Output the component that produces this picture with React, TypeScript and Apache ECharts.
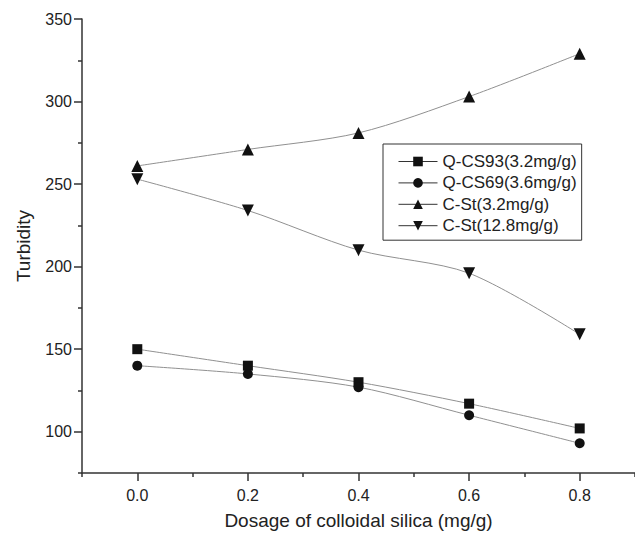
import React, { useEffect, useRef } from "react";
import * as echarts from "echarts";

const dosage = [0.0, 0.2, 0.4, 0.6, 0.8];
const qcs93 = [150, 140, 130, 117, 102];
const qcs69 = [140, 135, 127, 110, 93];
const cst32 = [261, 271, 281, 303, 329];
const cst128 = [253, 234, 210, 196, 159];

const seriesNames = ["Q-CS93(3.2mg/g)", "Q-CS69(3.6mg/g)", "C-St(3.2mg/g)", "C-St(12.8mg/g)"];

const yMajorTicks = [100, 150, 200, 250, 300, 350];
const yMinorTicks = [75, 125, 175, 225, 275, 325];
const xMajorTicks = [0, 0.2, 0.4, 0.6, 0.8];
const xMinorTicks = [-0.1, 0.1, 0.3, 0.5, 0.7, 0.9];

const FONT = "Liberation Sans, Arial, sans-serif";
const INK = "#222";

export default function App() {
  const ref = useRef<HTMLDivElement>(null);
  useEffect(() => {
    if (!ref.current) return;
    const chart = echarts.init(ref.current, undefined, { renderer: "svg" });
    const pairs = (ys: number[]) => dosage.map((x, i) => [x, ys[i]]);
    const mk = (name: string, ys: number[], symbol: string, size: number, rotate = 0) => ({
      name,
      type: "line",
      data: pairs(ys),
      xAxisIndex: 0,
      yAxisIndex: 0,
      smooth: 0.3,
      symbol,
      symbolSize: size,
      symbolRotate: rotate,
      showAllSymbol: true,
      lineStyle: { color: "#909090", width: 1 },
      itemStyle: { color: "#111" },
      emphasis: { disabled: true },
    });
    chart.setOption({
      animation: false,
      backgroundColor: "#fff",
      textStyle: { fontFamily: FONT },
      grid: { left: 82, top: 19, width: 556, height: 454 },
      legend: {
        orient: "vertical",
        left: 383,
        top: 144,
        data: seriesNames,
        itemWidth: 39,
        itemHeight: 12,
        itemGap: 4.4,
        itemTextGap: 4,
        padding: [9, 5, 6, 15],
        borderColor: "#333",
        borderWidth: 1,
        backgroundColor: "#fff",
        textStyle: { fontFamily: FONT, fontSize: 17, color: INK },
        lineStyle: { color: "#333", width: 1 },
      },
      xAxis: [
        {
          type: "value",
          min: -0.1,
          max: 0.9,
          name: "Dosage of colloidal silica (mg/g)",
          nameLocation: "middle",
          nameGap: 38,
          nameTextStyle: { fontFamily: FONT, fontSize: 19, color: INK },
          axisLine: { show: true, onZero: false, lineStyle: { color: "#333", width: 1.5 } },
          axisTick: { show: true, inside: false, length: 8, customValues: xMajorTicks, lineStyle: { color: "#333", width: 1.5 } },
          axisLabel: {
            customValues: xMajorTicks,
            margin: 14,
            fontFamily: FONT,
            fontSize: 16,
            color: INK,
            formatter: (v: number) => v.toFixed(1),
          },
          splitLine: { show: false },
        },
        {
          type: "value",
          min: -0.1,
          max: 0.9,
          position: "bottom",
          axisLine: { show: false, onZero: false },
          axisTick: { show: true, inside: false, length: 4, customValues: xMinorTicks, lineStyle: { color: "#333", width: 1.5 } },
          axisLabel: { show: false },
          splitLine: { show: false },
        },
      ],
      yAxis: [
        {
          type: "value",
          min: 75,
          max: 350,
          name: "Turbidity",
          nameLocation: "middle",
          nameGap: 49,
          nameTextStyle: { fontFamily: FONT, fontSize: 19, color: INK },
          axisLine: { show: true, onZero: false, lineStyle: { color: "#333", width: 1.5 } },
          axisTick: { show: true, inside: false, length: 8, customValues: yMajorTicks, lineStyle: { color: "#333", width: 1.5 } },
          axisLabel: { customValues: yMajorTicks, margin: 10, fontFamily: FONT, fontSize: 16, color: INK },
          splitLine: { show: false },
        },
        {
          type: "value",
          min: 75,
          max: 350,
          position: "left",
          axisLine: { show: false, onZero: false },
          axisTick: { show: true, inside: false, length: 4, customValues: yMinorTicks, lineStyle: { color: "#333", width: 1.5 } },
          axisLabel: { show: false },
          splitLine: { show: false },
        },
      ],
      series: [
        mk(seriesNames[0], qcs93, "rect", 10),
        mk(seriesNames[1], qcs69, "circle", 10),
        mk(seriesNames[2], cst32, "triangle", 12),
        mk(seriesNames[3], cst128, "triangle", 12, 180),
      ],
    });
    return () => chart.dispose();
  }, []);
  return <div ref={ref} style={{ width: 635, height: 541, position: "absolute", left: 0, top: 0 }} />;
}
